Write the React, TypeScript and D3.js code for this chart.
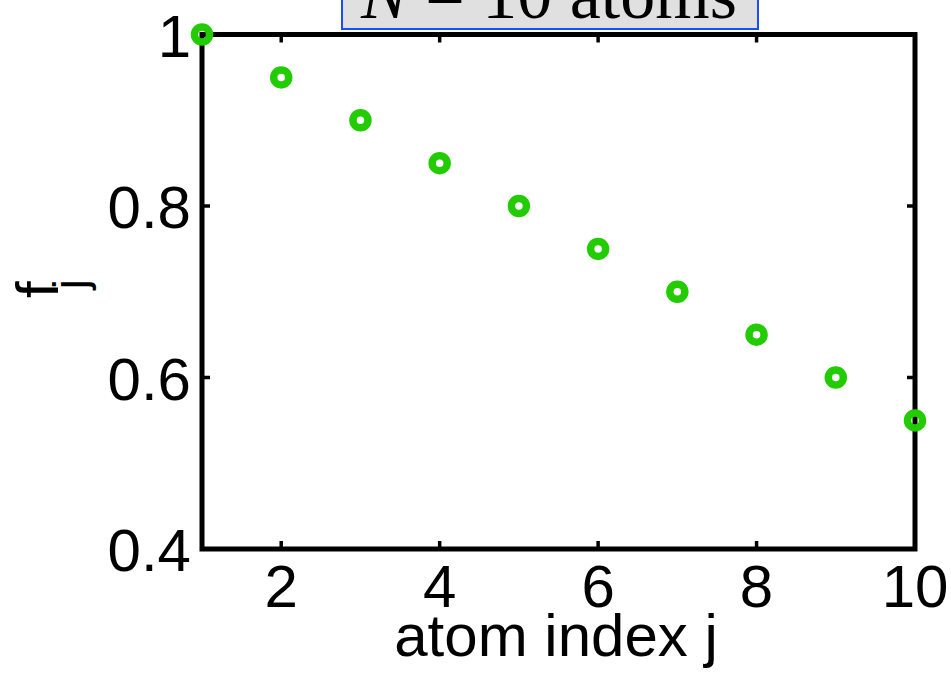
import React from "react";
import * as d3 from "d3";

// Relative fidelity f_j for each atom index j
const atomIndex = [1, 2, 3, 4, 5, 6, 7, 8, 9, 10];
const fidelity = [1.0, 0.95, 0.9, 0.85, 0.8, 0.75, 0.7, 0.65, 0.6, 0.55];

const xTicks = [2, 4, 6, 8, 10];
const yTicks = [0.4, 0.6, 0.8, 1];

const W = 951;
const H = 677;
const plot = { left: 202, right: 915, top: 34.5, bottom: 549 };

const SANS = "'Liberation Sans', Arial, Helvetica, sans-serif";
const SERIF = "'Liberation Serif', 'Times New Roman', serif";
const GREEN = "#22cc00";

export default function App() {
  const x = d3.scaleLinear().domain([1, 10]).range([plot.left, plot.right]);
  const y = d3.scaleLinear().domain([0.4, 1]).range([plot.bottom, plot.top]);
  const tickLen = 8;

  return (
    <div style={{ position: "absolute", left: 0, top: 0 }}>
      <svg width={W} height={H} style={{ display: "block", background: "#fff" }}>
        {/* title box */}
        <rect x={342} y={-40} width={416} height={69} fill="#e0e0e0" stroke="#1d4bff" strokeWidth={2} />
        <text x={549} y={18} textAnchor="middle" fontFamily={SERIF} fontSize={70} fill="#000">
          <tspan fontStyle="italic">N</tspan>
          <tspan> = 10 atoms</tspan>
        </text>

        {/* inner ticks on all four sides */}
        <g stroke="#000" strokeWidth={3.5}>
          {xTicks.map((t) => (
            <g key={`xt${t}`}>
              <line x1={x(t)} x2={x(t)} y1={plot.bottom} y2={plot.bottom - tickLen} />
              <line x1={x(t)} x2={x(t)} y1={plot.top} y2={plot.top + tickLen} />
            </g>
          ))}
          {yTicks.map((t) => (
            <g key={`yt${t}`}>
              <line x1={plot.left} x2={plot.left + tickLen} y1={y(t)} y2={y(t)} />
              <line x1={plot.right} x2={plot.right - tickLen} y1={y(t)} y2={y(t)} />
            </g>
          ))}
        </g>

        {/* axes box */}
        <rect
          x={plot.left}
          y={plot.top}
          width={plot.right - plot.left}
          height={plot.bottom - plot.top}
          fill="none"
          stroke="#000"
          strokeWidth={5}
        />

        {/* tick labels */}
        <g fontFamily={SANS} fontSize={60} fill="#000">
          {xTicks.map((t) => (
            <text key={`xl${t}`} x={x(t)} y={607} textAnchor="middle">
              {t}
            </text>
          ))}
          {yTicks.map((t) => (
            <text key={`yl${t}`} x={191} y={y(t) + 22} textAnchor="end">
              {t === 1 ? "1" : t.toFixed(1)}
            </text>
          ))}
        </g>

        {/* axis labels */}
        <text x={556} y={656} textAnchor="middle" fontFamily={SANS} fontSize={60} fill="#000">
          atom index j
        </text>
        <text transform="translate(58,298) rotate(-90)" fontFamily={SANS} fontSize={60} fill="#000">
          <tspan>f</tspan>
          <tspan fontSize={46} dx={-8} dy={28}>j</tspan>
        </text>

        {/* data markers */}
        <g fill="none" stroke={GREEN} strokeWidth={7.5}>
          {atomIndex.map((j, i) => (
            <circle key={`p${j}`} cx={x(j)} cy={y(fidelity[i])} r={7.5} />
          ))}
        </g>
      </svg>
    </div>
  );
}
